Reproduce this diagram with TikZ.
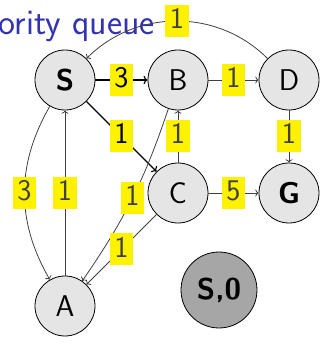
\documentclass[tikz,border=0pt]{standalone}
\usepackage{fontspec}
\usetikzlibrary{arrows.meta}
\definecolor{titleblue}{rgb}{0.2,0.2,0.7}
\definecolor{labelyellow}{RGB}{255,242,0}

\begin{document}
\begin{tikzpicture}[x=1pt,y=1pt,
  vertex/.style={circle,draw,line width=0.8pt,fill=black!10,minimum size=60pt,inner sep=0pt,font=\sffamily\fontsize{30}{36}\selectfont},
  weight/.style={fill=labelyellow,inner xsep=4.5pt,inner ysep=2pt,text height=21.5pt,text depth=6.5pt,font=\sffamily\fontsize{30}{36}\selectfont},
  edge/.style={->,line width=0.8pt,black!75},
  hot/.style={->,line width=1.1pt,black}]
  \useasboundingbox (0,0) rectangle (321,349);

  % Frame title, cut at the left border
  \node[anchor=base east,text=titleblue,inner sep=0pt,font=\sffamily\fontsize{36}{42}\selectfont] (title) at (155,314) {ority queue};

  % Graph vertices
  \node[vertex] (S) at (65,269) {\textbf{S}};
  \node[vertex] (B) at (178,269) {B};
  \node[vertex] (D) at (289,269) {D};
  \node[vertex] (C) at (178,156) {C};
  \node[vertex] (G) at (289,156) {\textbf{G}};
  \node[vertex] (A) at (65,43) {A};

  % Queue entry
  \node[vertex,fill=black!35,minimum size=76pt] (S0) at (219,59) {\textbf{S,0}};

  % Weighted edges
  \draw[hot] (S) -- node[weight] (wSB) {3} (B);
  \draw[hot] (S) -- node[weight] (wSC) {1} (C);
  \draw[edge] (S) to[bend right=30] node[weight] (wSA) {3} (A);
  \draw[edge] (B) -- node[weight] (wBD) {1} (D);
  \draw[edge] (C) -- node[weight] (wCB) {1} (B);
  \draw[edge] (D) -- node[weight] (wDG) {1} (G);
  \draw[edge] (C) -- node[weight] (wCG) {5} (G);
  \draw[edge] (A) -- node[weight] (wAS) {1} (S);
  \draw[edge] (B) to[bend left=8] node[weight] (wBA) {1} (A);
  \draw[edge] (C) -- node[weight] (wCA) {1} (A);
  \draw[edge] (D) to[bend right=45] node[weight] (wDS) {1} (S);
\end{tikzpicture}
\end{document}
